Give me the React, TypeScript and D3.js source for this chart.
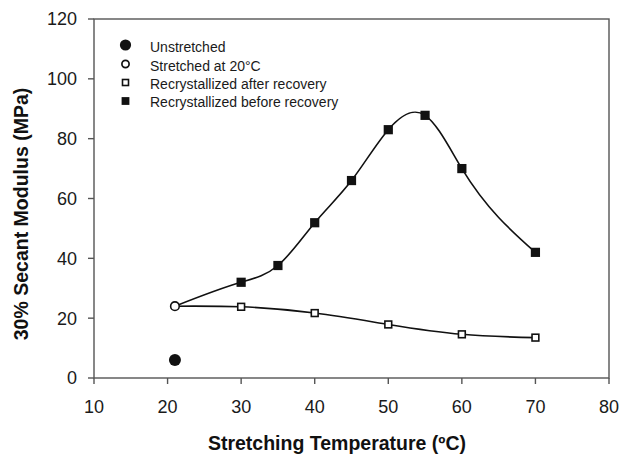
import React from "react";
import * as d3 from "d3";

// Stretching temperature (°C) and 30% secant modulus (MPa)
const unstretchedX = [21];
const unstretchedY = [6];
const stretchedX = [21];
const stretchedY = [24];
const afterRecoveryX = [21, 30, 40, 50, 60, 70];
const afterRecoveryY = [24, 23.8, 21.7, 17.9, 14.6, 13.5];
const beforeRecoveryX = [21, 30, 35, 40, 45, 50, 55, 60, 70];
const beforeRecoveryY = [24, 32, 37.6, 51.9, 66, 83, 87.8, 70, 42];

const xTicks = [10, 20, 30, 40, 50, 60, 70, 80];
const yTicks = [0, 20, 40, 60, 80, 100, 120];

const legendLabels = [
  "Unstretched",
  "Stretched at 20°C",
  "Recrystallized after recovery",
  "Recrystallized before recovery",
];

const W = 622;
const H = 455;
const margin = { left: 94, right: 13, top: 19, bottom: 77 };

// Custom d3 curve: natural cubic spline with y as a function of x,
// emitted as one cubic Bézier per interval.
function curveSplineX(context: any) {
  let xs: number[] = [];
  let ys: number[] = [];
  return {
    areaStart() {},
    areaEnd() {},
    lineStart() {
      xs = [];
      ys = [];
    },
    point(px: number, py: number) {
      xs.push(+px);
      ys.push(+py);
    },
    lineEnd() {
      const n = xs.length;
      if (n === 0) return;
      context.moveTo(xs[0], ys[0]);
      if (n === 1) return;
      if (n === 2) {
        context.lineTo(xs[1], ys[1]);
        return;
      }
      const h = d3.range(n - 1).map((i) => xs[i + 1] - xs[i]);
      const s = d3.range(n - 1).map((i) => (ys[i + 1] - ys[i]) / h[i]);
      // tridiagonal system for second derivatives, natural ends
      const M = new Array(n).fill(0);
      const a: number[] = [], b: number[] = [], c: number[] = [], r: number[] = [];
      for (let i = 1; i < n - 1; i++) {
        a.push(h[i - 1]);
        b.push(2 * (h[i - 1] + h[i]));
        c.push(h[i]);
        r.push(6 * (s[i] - s[i - 1]));
      }
      const m = a.length;
      for (let i = 1; i < m; i++) {
        const w = a[i] / b[i - 1];
        b[i] -= w * c[i - 1];
        r[i] -= w * r[i - 1];
      }
      const sol = new Array(m).fill(0);
      sol[m - 1] = r[m - 1] / b[m - 1];
      for (let i = m - 2; i >= 0; i--) sol[i] = (r[i] - c[i] * sol[i + 1]) / b[i];
      for (let i = 0; i < m; i++) M[i + 1] = sol[i];
      const d = new Array(n);
      for (let i = 0; i < n - 1; i++) d[i] = s[i] - (h[i] * (2 * M[i] + M[i + 1])) / 6;
      d[n - 1] = s[n - 2] + (h[n - 2] * (M[n - 2] + 2 * M[n - 1])) / 6;
      for (let i = 0; i < n - 1; i++) {
        const hi = h[i];
        context.bezierCurveTo(
          xs[i] + hi / 3,
          ys[i] + (d[i] * hi) / 3,
          xs[i + 1] - hi / 3,
          ys[i + 1] - (d[i + 1] * hi) / 3,
          xs[i + 1],
          ys[i + 1]
        );
      }
    },
  };
}

export default function App() {
  const x = d3.scaleLinear().domain([10, 80]).range([margin.left, W - margin.right]);
  const y = d3.scaleLinear().domain([0, 120]).range([H - margin.bottom, margin.top]);

  const line = d3
    .line<[number, number]>()
    .x((d) => x(d[0]))
    .y((d) => y(d[1]))
    .curve(curveSplineX as any);

  const after: [number, number][] = afterRecoveryX.map((v, i) => [v, afterRecoveryY[i]]);
  const before: [number, number][] = beforeRecoveryX.map((v, i) => [v, beforeRecoveryY[i]]);

  const font = "'Liberation Sans', Arial, sans-serif";
  const axisColor = "#555";
  const x0 = x(10);
  const x1 = x(80);
  const y0 = y(0);
  const y1 = y(120);

  const legendX = 125.5;
  const legendMarks = [45, 64, 82.5, 101];
  const legendText = [46.5, 65.5, 84, 102];

  return (
    <svg width={W} height={H} style={{ position: "absolute", left: 0, top: 0, background: "#fff" }}>
      {/* frame */}
      <rect x={x0} y={y1} width={x1 - x0} height={y0 - y1} fill="none" stroke={axisColor} strokeWidth={1.4} />

      {/* y ticks */}
      {yTicks.map((t) => (
        <g key={"y" + t}>
          <line x1={x0 - 6} x2={x0} y1={y(t)} y2={y(t)} stroke={axisColor} strokeWidth={1.4} />
          <text x={x0 - 17} y={y(t)} dy="0.36em" textAnchor="end" fontFamily={font} fontSize={18} fill="#1a1a1a">
            {t}
          </text>
        </g>
      ))}

      {/* x ticks */}
      {xTicks.map((t) => (
        <g key={"x" + t}>
          <line x1={x(t)} x2={x(t)} y1={y0} y2={y0 + 6} stroke={axisColor} strokeWidth={1.4} />
          <text x={x(t)} y={412.5} textAnchor="middle" fontFamily={font} fontSize={18} fill="#1a1a1a">
            {t}
          </text>
        </g>
      ))}

      {/* axis titles */}
      <text x={337} y={450} textAnchor="middle" fontFamily={font} fontSize={19.5} fontWeight="bold" fill="#111">
        Stretching Temperature (ºC)
      </text>
      <text
        transform={`translate(21,214) rotate(-90)`}
        dy="0.36em"
        textAnchor="middle"
        fontFamily={font}
        fontSize={19.5}
        fontWeight="bold"
        fill="#111"
      >
        30% Secant Modulus (MPa)
      </text>

      {/* curves */}
      <path d={line(before) || ""} fill="none" stroke="#111" strokeWidth={1.6} />
      <path d={line(after) || ""} fill="none" stroke="#111" strokeWidth={1.6} />

      {/* recrystallized before recovery markers */}
      {beforeRecoveryX.slice(1).map((v, i) => (
        <rect key={"b" + i} x={x(v) - 4.6} y={y(beforeRecoveryY[i + 1]) - 4.6} width={9.2} height={9.2} fill="#111" />
      ))}
      {/* recrystallized after recovery markers */}
      {afterRecoveryX.slice(1).map((v, i) => (
        <rect
          key={"a" + i}
          x={x(v) - 3.4}
          y={y(afterRecoveryY[i + 1]) - 3.4}
          width={6.8}
          height={6.8}
          fill="#fff"
          stroke="#111"
          strokeWidth={1.6}
        />
      ))}
      {/* stretched at 20°C */}
      {stretchedX.map((v, i) => (
        <circle key={"s" + i} cx={x(v)} cy={y(stretchedY[i])} r={4.3} fill="#fff" stroke="#111" strokeWidth={1.6} />
      ))}
      {/* unstretched */}
      {unstretchedX.map((v, i) => (
        <circle key={"u" + i} cx={x(v)} cy={y(unstretchedY[i])} r={6} fill="#111" />
      ))}

      {/* legend */}
      <circle cx={legendX} cy={legendMarks[0]} r={5.6} fill="#111" />
      <circle cx={legendX} cy={legendMarks[1]} r={3.6} fill="#fff" stroke="#111" strokeWidth={1.7} />
      <rect x={legendX - 3} y={legendMarks[2] - 3} width={6} height={6} fill="#fff" stroke="#111" strokeWidth={1.6} />
      <rect x={legendX - 3.9} y={legendMarks[3] - 3.9} width={7.8} height={7.8} fill="#111" />
      {legendLabels.map((l, i) => (
        <text key={l} x={150} y={legendText[i]} dy="0.36em" fontFamily={font} fontSize={14} fill="#1a1a1a">
          {l}
        </text>
      ))}
    </svg>
  );
}
